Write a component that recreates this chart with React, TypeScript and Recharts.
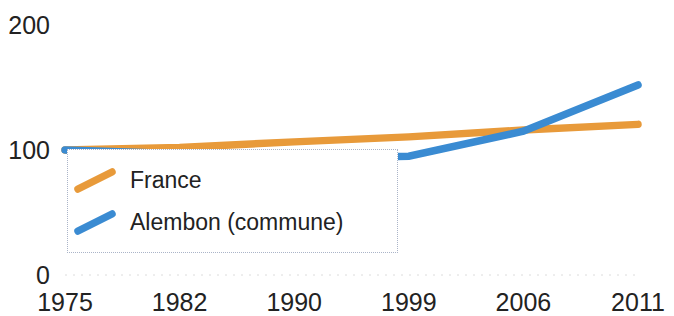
import { LineChart, Line, XAxis, YAxis, Legend, ReferenceLine } from 'recharts';

const years = ['1975', '1982', '1990', '1999', '2006', '2011'];
const franceValues = [100, 102, 106.5, 110.5, 116, 120.5];
const alembonValues = [100, 97, 93, 95, 115, 152];
const yTicks = [0, 100, 200];

const ORANGE = '#E89A3A';
const BLUE = '#3A8BD2';
const FONT = '"Liberation Sans", Arial, sans-serif';

const data = years.map((year, i) => ({
  year,
  france: franceValues[i],
  alembon: alembonValues[i],
}));

function Swatch({ color }: { color: string }) {
  return (
    <svg width={48} height={30} style={{ display: 'block' }}>
      <line x1={8} y1={24} x2={42} y2={7} stroke={color} strokeWidth={7.5} strokeLinecap="round" />
    </svg>
  );
}

function LegendBox() {
  const items = [
    { label: 'France', color: ORANGE, top: 15 },
    { label: 'Alembon (commune)', color: BLUE, top: 57 },
  ];
  return (
    <div
      style={{
        position: 'relative',
        width: 329,
        height: 102,
        background: '#fff',
        border: '1.5px dotted #aab4c8',
        fontFamily: FONT,
      }}
    >
      {items.map((it) => (
        <div key={it.label} style={{ position: 'absolute', left: 2, top: it.top, display: 'flex', alignItems: 'center' }}>
          <Swatch color={it.color} />
          <span style={{ marginLeft: 12, fontSize: 23, color: '#222', lineHeight: '30px' }}>{it.label}</span>
        </div>
      ))}
    </div>
  );
}

export default function App() {
  return (
    <div style={{ position: 'absolute', left: 0, top: 0, width: 674, height: 316, background: '#fff' }}>
      <LineChart width={674} height={316} data={data} margin={{ top: 25, right: 36, left: 0, bottom: 0 }}>
        <ReferenceLine y={0} stroke="#dcdcdc" strokeDasharray="2 6" />
        <XAxis
          dataKey="year"
          axisLine={false}
          tickLine={false}
          tickSize={0}
          tickMargin={18}
          height={41}
          interval={0}
          tick={{ fontSize: 25, fill: '#222', fontFamily: FONT }}
        />
        <YAxis
          domain={[0, 200]}
          ticks={yTicks}
          axisLine={false}
          tickLine={false}
          tickSize={0}
          tickMargin={15}
          width={65}
          tick={{ fontSize: 25, fill: '#222', fontFamily: FONT }}
        />
        <Line
          dataKey="france"
          stroke={ORANGE}
          strokeWidth={7.5}
          strokeLinecap="round"
          dot={false}
          isAnimationActive={false}
        />
        <Line
          dataKey="alembon"
          stroke={BLUE}
          strokeWidth={7.5}
          strokeLinecap="round"
          dot={false}
          isAnimationActive={false}
        />
        <Legend
          layout="vertical"
          align="center"
          verticalAlign="middle"
          content={() => <LegendBox />}
          wrapperStyle={{ left: 67, top: 149, width: 331, height: 104 }}
        />
      </LineChart>
    </div>
  );
}
